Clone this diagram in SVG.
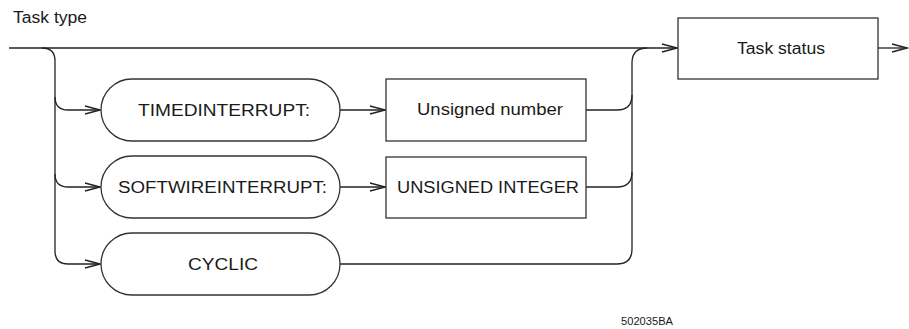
<svg xmlns="http://www.w3.org/2000/svg" width="909" height="329" viewBox="0 0 909 329">
  <style>
    .shape { fill: #ffffff; stroke: #333333; stroke-width: 1.3; }
    .line { fill: none; stroke: #222222; stroke-width: 1.3; }
    .label { font-family: "Liberation Sans", Arial, sans-serif; font-size: 16px; fill: #1a1a1a; }
    .note { font-family: "Liberation Sans", Arial, sans-serif; font-size: 10px; fill: #1a1a1a; }
  </style>
  <defs>
    <marker id="open-arrow" markerUnits="userSpaceOnUse" markerWidth="18" markerHeight="12" viewBox="-16 -6 18 12" refX="0" refY="0" orient="auto">
      <path d="M -15 -4 L 0 0 L -15 4" fill="none" stroke="#222222" stroke-width="1.3"/>
    </marker>
  </defs>

  <rect width="909" height="329" fill="#ffffff"/>

  <text class="label" x="13" y="23" textLength="74" lengthAdjust="spacingAndGlyphs">Task type</text>

  <g id="connectors">
    <!-- main track into Task status -->
    <path class="line" d="M 9 48 L 677 48" marker-end="url(#open-arrow)"/>
    <!-- left branch bracket -->
    <path class="line" d="M 42 48 Q 55 48 55 61 L 55 251 Q 55 264 68 264 L 100 264" marker-end="url(#open-arrow)"/>
    <path class="line" d="M 55 97 Q 55 110 68 110 L 100 110" marker-end="url(#open-arrow)"/>
    <path class="line" d="M 55 174 Q 55 187 68 187 L 100 187" marker-end="url(#open-arrow)"/>
    <!-- keyword to value -->
    <path class="line" d="M 340 110 L 385 110" marker-end="url(#open-arrow)"/>
    <path class="line" d="M 340 187 L 385 187" marker-end="url(#open-arrow)"/>
    <!-- right merge bracket -->
    <path class="line" d="M 586 110 L 617 110 Q 632 110 632 95"/>
    <path class="line" d="M 586 187 L 617 187 Q 632 187 632 172"/>
    <path class="line" d="M 340 264 L 617 264 Q 632 264 632 249 L 632 63 Q 632 48 647 48"/>
    <!-- exit -->
    <path class="line" d="M 878 48 L 907 48" marker-end="url(#open-arrow)"/>
  </g>

  <g id="timedinterrupt">
    <rect class="shape" x="101" y="79" width="239" height="62" rx="31" ry="31"/>
    <text class="label" x="224" y="115.5" text-anchor="middle" textLength="172" lengthAdjust="spacingAndGlyphs">TIMEDINTERRUPT:</text>
  </g>
  <g id="unsigned-number">
    <rect class="shape" x="386" y="79" width="200" height="62"/>
    <text class="label" x="490" y="115" text-anchor="middle" textLength="146" lengthAdjust="spacingAndGlyphs">Unsigned number</text>
  </g>
  <g id="softwireinterrupt">
    <rect class="shape" x="101" y="156" width="239" height="62" rx="31" ry="31"/>
    <text class="label" x="222.5" y="192.7" text-anchor="middle" textLength="209" lengthAdjust="spacingAndGlyphs">SOFTWIREINTERRUPT:</text>
  </g>
  <g id="unsigned-integer">
    <rect class="shape" x="386" y="157" width="200" height="61"/>
    <text class="label" x="488" y="192.5" text-anchor="middle" textLength="182" lengthAdjust="spacingAndGlyphs">UNSIGNED INTEGER</text>
  </g>
  <g id="cyclic">
    <rect class="shape" x="101" y="233" width="239" height="62" rx="31" ry="31"/>
    <text class="label" x="223" y="270" text-anchor="middle" textLength="70" lengthAdjust="spacingAndGlyphs">CYCLIC</text>
  </g>
  <g id="task-status">
    <rect class="shape" x="678" y="18" width="200" height="61"/>
    <text class="label" x="781" y="54.3" text-anchor="middle" textLength="88" lengthAdjust="spacingAndGlyphs">Task status</text>
  </g>

  <text class="note" x="621" y="325" textLength="52" lengthAdjust="spacingAndGlyphs">502035BA</text>
</svg>
